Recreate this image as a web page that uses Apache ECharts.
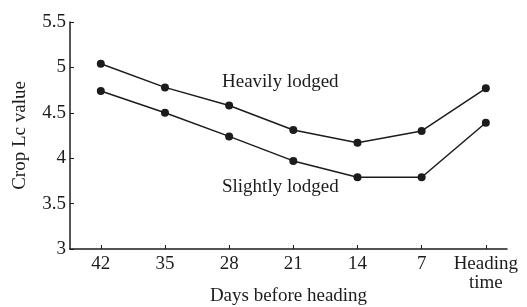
<!DOCTYPE html>
<html>
<head>
<meta charset="utf-8">
<script src="https://cdn.jsdelivr.net/npm/echarts@6/dist/echarts.min.js"></script>
<style>
html,body{margin:0;padding:0;background:#fff;}
#chart{width:527px;height:307px;}
</style>
</head>
<body>
<div id="chart"></div>
<script>
// days before heading
var categories = ['42', '35', '28', '21', '14', '7', 'Heading\ntime'];
var heavily = [5.04, 4.78, 4.58, 4.31, 4.17, 4.30, 4.77];
var slightly = [4.74, 4.50, 4.24, 3.97, 3.79, 3.79, 4.39];
var yTicks = [3, 3.5, 4, 4.5, 5, 5.5];

var font = '"Liberation Serif", "DejaVu Serif", serif';
var ink = '#1c1c1c';

function pairs(arr){
    var out = [];
    for(var i=0;i<arr.length;i++){
        out.push([i, arr[i]]);
    }
    return out;
}
var idx = categories.map(function(c, i){ return i; });

var chart = echarts.init(document.getElementById('chart'));
chart.setOption({
    animation:false,
    backgroundColor:'#fff',
    grid:{left:70, right:20, top:22, bottom:58, outerBoundsMode:'none', containLabel:false},
    xAxis:{
        type:'value',
        min:-0.48,
        max:6.33,
        name:'Days before heading',
        nameLocation:'middle',
        nameGap:47,
        nameMoveOverlap:false,
        nameTextStyle:{fontFamily:font, fontSize:19, color:ink, verticalAlign:'middle'},
        axisLine:{onZero:false, lineStyle:{color:ink, width:1.5}},
        axisTick:{show:true, inside:true, length:4, customValues:idx, lineStyle:{color:ink}},
        axisLabel:{
            customValues:idx,
            margin:6,
            fontFamily:font, fontSize:19, color:ink, lineHeight:19,
            formatter:function(v){ return categories[Math.round(v)]; }
        },
        splitLine:{show:false}
    },
    yAxis:{
        type:'value',
        min:3,
        max:5.5,
        interval:0.5,
        name:'Crop Lc value',
        nameLocation:'middle',
        nameGap:40,
        nameMoveOverlap:false,
        nameTextStyle:{fontFamily:font, fontSize:19, color:ink},
        axisLine:{show:true, onZero:false, lineStyle:{color:ink, width:1.5}},
        axisTick:{show:true, inside:true, length:4, lineStyle:{color:ink}},
        axisLabel:{
            customValues:yTicks,
            margin:4,
            fontFamily:font, fontSize:19, color:ink
        },
        splitLine:{show:false}
    },
    series:[
        {
            name:'Heavily lodged',
            type:'line',
            data:pairs(heavily),
            symbol:'circle',
            symbolSize:8,
            lineStyle:{color:ink, width:1.5},
            itemStyle:{color:ink}
        },
        {
            name:'Slightly lodged',
            type:'line',
            data:pairs(slightly),
            symbol:'circle',
            symbolSize:8,
            lineStyle:{color:ink, width:1.5},
            itemStyle:{color:ink}
        }
    ],
    graphic:[
        {type:'text', left:222, top:73, style:{text:'Heavily lodged', font:'19px ' + font, fill:ink}},
        {type:'text', left:222, top:178, style:{text:'Slightly lodged', font:'19px ' + font, fill:ink}}
    ]
});
</script>
</body>
</html>
